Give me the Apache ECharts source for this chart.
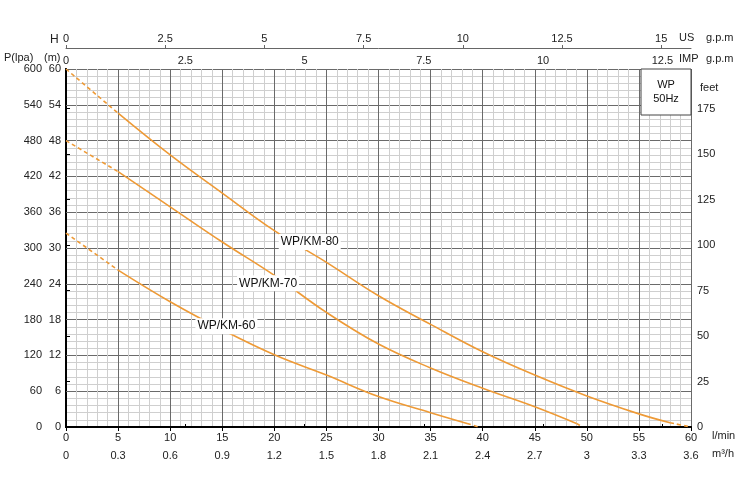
<!DOCTYPE html>
<html>
<head>
<meta charset="utf-8">
<script src="https://cdn.jsdelivr.net/npm/echarts@6/dist/echarts.min.js"></script>
<style>html,body{margin:0;background:#fff}#c{width:750px;height:490px}</style>
</head>
<body>
<div id="c"></div>
<script>
// flow in l/min, head in m
const km80 = [[0, 60], [5, 52.6], [10, 45.6], [15, 39.2], [20, 32.9], [25, 27.6], [30, 22], [35, 17.2], [40, 12.6], [45, 8.7], [50, 5.2], [55, 2.2], [58, 0.7], [60, 0]];
const km70 = [[0, 48], [5, 42.8], [10, 36.9], [15, 31], [20, 25.4], [25, 19.2], [30, 13.9], [35, 9.9], [40, 6.5], [45, 3.4], [49, 0.6], [49.6, 0]];
const km60 = [[0, 32.5], [5, 26.3], [10, 21], [15, 16.3], [20, 12.1], [25, 8.7], [30, 5.1], [35, 2.4], [38.5, 0.6], [39.6, 0]];
// [label, flow, head] where the curve name sits
const curveLabels = [['WP/KM-80', 23.4, 31], ['WP/KM-70', 19.4, 24.1], ['WP/KM-60', 15.4, 16.9]];
// index where solid part starts / ends
const solidRange = [[1, 12], [1, 10], [1, 8]];

const orange = '#EE9A36';
const lab = { color: '#222', fontSize: 11, fontFamily: 'Liberation Sans' };
const font = '11px Liberation Sans';

const chart = echarts.init(document.getElementById('c'));

const series = [];
[km80, km70, km60].forEach((d, i) => {
    const [a, b] = solidRange[i];
    const base = { type: 'line', smooth: 0.4, symbol: 'none', xAxisIndex: 0, yAxisIndex: 0, silent: true };
    series.push(Object.assign({}, base, {
        data: d.slice(a, b + 1),
        lineStyle: { color: orange, width: 1.6 },
        markPoint: {
            symbol: 'rect', symbolSize: 1, itemStyle: { color: 'transparent' },
            label: { show: true, formatter: curveLabels[i][0], backgroundColor: '#fff', padding: [2, 2], color: '#111', fontSize: 12, fontFamily: 'Liberation Sans' },
            data: [{ coord: [curveLabels[i][1], curveLabels[i][2]] }]
        }
    }));
    series.push(Object.assign({}, base, { data: d.slice(0, a + 1), lineStyle: { color: orange, width: 1.6, type: [4, 3] } }));
    series.push(Object.assign({}, base, { data: d.slice(b), lineStyle: { color: orange, width: 1.6, type: [4, 3] } }));
});

const hidden = { show: false };
const option = {
    animation: false,
    grid: { left: 66, right: 59, top: 69, bottom: 63, outerBoundsMode: 'none', containLabel: false },
    xAxis: [
        {
            type: 'value', position: 'bottom', min: 0, max: 60, interval: 5,
            axisLine: { show: true, lineStyle: { color: '#000', width: 2 } },
            axisTick: { show: true, length: 4, lineStyle: { color: '#000' } },
            axisLabel: Object.assign({ margin: 5 }, lab),
            splitLine: { show: true, lineStyle: { color: '#6a6a6a', width: 1 } },
            minorTick: { show: false, splitNumber: 5 },
            minorSplitLine: { show: true, lineStyle: { color: '#cfcfcf', width: 1 } }
        },
        {
            type: 'value', position: 'bottom', offset: 18, min: 0, max: 3.6, interval: 0.3,
            axisLine: hidden, axisTick: hidden, splitLine: hidden,
            axisLabel: Object.assign({ margin: 5 }, lab)
        },
        {
            type: 'value', position: 'top', min: 0, max: 13.1, interval: 2.5,
            axisLine: { show: true, lineStyle: { color: '#000', width: 2 } },
            axisTick: { show: true, length: 3, lineStyle: { color: '#000' } },
            axisLabel: Object.assign({ margin: 3, showMaxLabel: false }, lab),
            splitLine: hidden
        },
        {
            type: 'value', position: 'top', offset: 21, min: 0, max: 15.75, interval: 2.5,
            axisLine: { show: true, lineStyle: { color: '#666', width: 1 } },
            axisTick: { show: true, length: 3, lineStyle: { color: '#666' } },
            axisLabel: Object.assign({ margin: 4, showMaxLabel: false }, lab),
            splitLine: hidden
        }
    ],
    yAxis: [
        {
            type: 'value', position: 'left', min: 0, max: 60, interval: 6,
            axisLine: { show: true, lineStyle: { color: '#000', width: 2 } },
            axisTick: hidden,
            axisLabel: Object.assign({ margin: 5 }, lab),
            splitLine: { show: true, lineStyle: { color: '#6a6a6a', width: 1 } },
            minorTick: { show: false, splitNumber: 5 },
            minorSplitLine: { show: true, lineStyle: { color: '#cfcfcf', width: 1 } }
        },
        {
            type: 'value', position: 'left', offset: 21, min: 0, max: 600, interval: 60,
            axisLine: { show: true, lineStyle: { color: '#666', width: 1 } },
            axisTick: { show: true, length: 4, inside: true, lineStyle: { color: '#666' } },
            axisLabel: Object.assign({ margin: 3 }, lab),
            splitLine: hidden
        },
        {
            type: 'value', position: 'right', min: 0, max: 196.85, interval: 25,
            axisLine: { show: true, lineStyle: { color: '#000', width: 2 } },
            axisTick: { show: true, length: 4, lineStyle: { color: '#000' } },
            axisLabel: Object.assign({ margin: 6, showMaxLabel: false }, lab),
            splitLine: hidden
        }
    ],
    graphic: [
        { type: 'text', x: 50, y: 34, style: { text: 'H', fill: '#222', font: '12px Liberation Sans' } },
        { type: 'text', x: 4, y: 52, style: { text: 'P(lpa)', fill: '#222', font: font } },
        { type: 'text', x: 44, y: 52, style: { text: '(m)', fill: '#222', font: font } },
        { type: 'text', x: 679, y: 32, style: { text: 'US', fill: '#222', font: font } },
        { type: 'text', x: 706, y: 32, style: { text: 'g.p.m', fill: '#222', font: font } },
        { type: 'text', x: 679, y: 53, style: { text: 'IMP', fill: '#222', font: font } },
        { type: 'text', x: 706, y: 53, style: { text: 'g.p.m', fill: '#222', font: font } },
        { type: 'text', x: 700, y: 82, style: { text: 'feet', fill: '#222', font: font } },
        { type: 'text', x: 712, y: 430, style: { text: 'l/min', fill: '#222', font: font } },
        { type: 'text', x: 712, y: 448, style: { text: 'm³/h', fill: '#222', font: font } },
        {
            type: 'rect', shape: { x: 641, y: 69, width: 50, height: 46 },
            style: { fill: '#fff', stroke: '#444', lineWidth: 1 }, z: 10
        },
        { type: 'text', x: 666, y: 78, z: 11, style: { text: 'WP\n50Hz', fill: '#111', font: font, align: 'center', lineHeight: 14 } }
    ],
    series: series
};
chart.setOption(option);
</script>
</body>
</html>
